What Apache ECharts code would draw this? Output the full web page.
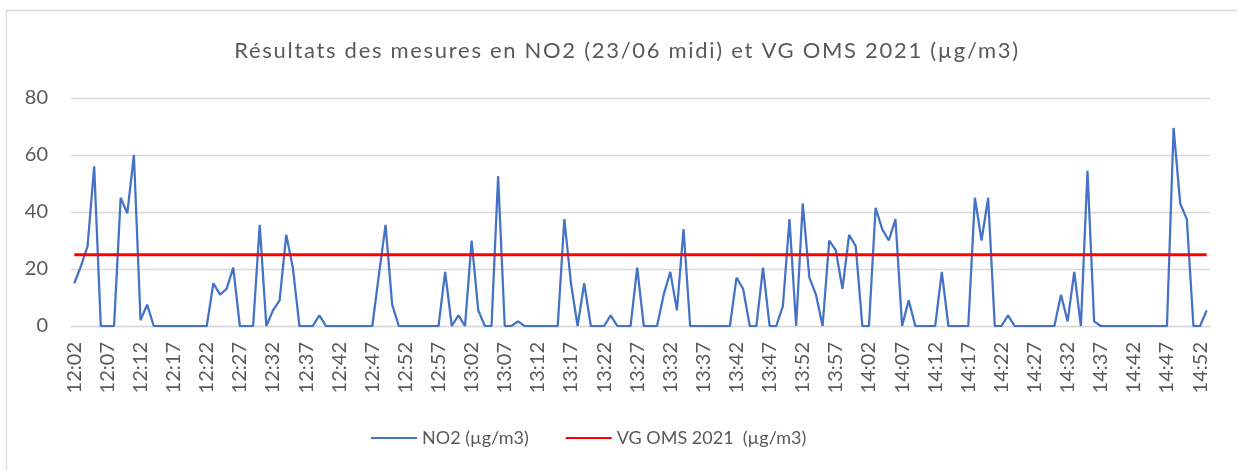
<!DOCTYPE html>
<html>
<head>
<meta charset="utf-8">
<script src="https://cdn.jsdelivr.net/npm/echarts@6/dist/echarts.min.js"></script>
<style>
  html, body { margin: 0; padding: 0; background: #ffffff; }
  #chart { width: 1237px; height: 470px; }
</style>
</head>
<body>
<div id="chart"></div>
<script>
const times = [
  "12:02","12:03","12:04","12:05","12:06","12:07","12:08","12:09","12:10","12:11",
  "12:12","12:13","12:14","12:15","12:16","12:17","12:18","12:19","12:20","12:21",
  "12:22","12:23","12:24","12:25","12:26","12:27","12:28","12:29","12:30","12:31",
  "12:32","12:33","12:34","12:35","12:36","12:37","12:38","12:39","12:40","12:41",
  "12:42","12:43","12:44","12:45","12:46","12:47","12:48","12:49","12:50","12:51",
  "12:52","12:53","12:54","12:55","12:56","12:57","12:58","12:59","13:00","13:01",
  "13:02","13:03","13:04","13:05","13:06","13:07","13:08","13:09","13:10","13:11",
  "13:12","13:13","13:14","13:15","13:16","13:17","13:18","13:19","13:20","13:21",
  "13:22","13:23","13:24","13:25","13:26","13:27","13:28","13:29","13:30","13:31",
  "13:32","13:33","13:34","13:35","13:36","13:37","13:38","13:39","13:40","13:41",
  "13:42","13:43","13:44","13:45","13:46","13:47","13:48","13:49","13:50","13:51",
  "13:52","13:53","13:54","13:55","13:56","13:57","13:58","13:59","14:00","14:01",
  "14:02","14:03","14:04","14:05","14:06","14:07","14:08","14:09","14:10","14:11",
  "14:12","14:13","14:14","14:15","14:16","14:17","14:18","14:19","14:20","14:21",
  "14:22","14:23","14:24","14:25","14:26","14:27","14:28","14:29","14:30","14:31",
  "14:32","14:33","14:34","14:35","14:36","14:37","14:38","14:39","14:40","14:41",
  "14:42","14:43","14:44","14:45","14:46","14:47","14:48","14:49","14:50","14:51",
  "14:52","14:53"
];

const no2 = [
  15, 21, 28, 56, 0, 0, 0, 45, 39.5, 60,
  2, 7.5, 0, 0, 0, 0, 0, 0, 0, 0,
  0, 15, 11, 13, 20.5, 0, 0, 0, 35.5, 0,
  5.5, 9, 32, 20.5, 0, 0, 0, 3.7, 0, 0,
  0, 0, 0, 0, 0, 0, 18, 35.5, 7.5, 0,
  0, 0, 0, 0, 0, 0, 19, 0, 3.7, 0,
  30, 5.5, 0, 0, 52.5, 0, 0, 1.6, 0, 0,
  0, 0, 0, 0, 37.5, 15, 0, 15, 0, 0,
  0, 3.7, 0, 0, 0, 20.5, 0, 0, 0, 11,
  19, 5.5, 34, 0, 0, 0, 0, 0, 0, 0,
  17, 13, 0, 0, 20.5, 0, 0, 7, 37.5, 0,
  43, 17, 11, 0, 30, 26.5, 13, 32, 28, 0,
  0, 41.5, 34, 30, 37.5, 0, 9, 0, 0, 0,
  0, 19, 0, 0, 0, 0, 45, 30, 45, 0,
  0, 3.7, 0, 0, 0, 0, 0, 0, 0, 11,
  1.6, 19, 0, 54.5, 1.6, 0, 0, 0, 0, 0,
  0, 0, 0, 0, 0, 0, 69.5, 43, 37.5, 0,
  0, 5.5
];

const vgOmsValue = 25;
const vgOms = [[times[0], vgOmsValue], [times[times.length - 1], vgOmsValue]];

const seriesNames = ["NO2 (µg/m3)", "VG OMS 2021  (µg/m3)"];
const titleText = "Résultats des mesures en NO2 (23/06 midi) et VG OMS 2021 (µg/m3)";
const yTicks = { min: 0, max: 80, interval: 20 };

const FONT = "Lato";
const GREY = "#595959";

// The reference title is set with expanded character spacing.
// Text drawn in the "TitleSpaced" family (falls back to Lato) gets extra letter spacing.
(function () {
  const proto = CanvasRenderingContext2D.prototype;
  const origFill = proto.fillText;
  proto.fillText = function (t, x, y, w) {
    if (typeof this.font === 'string' && this.font.indexOf('TitleSpaced') >= 0 && 'letterSpacing' in this) {
      const prev = this.letterSpacing;
      this.letterSpacing = '1.7px';
      const r = (w === undefined) ? origFill.call(this, t, x, y) : origFill.call(this, t, x, y, w);
      this.letterSpacing = prev;
      return r;
    }
    return origFill.apply(this, arguments);
  };
})();

const chart = echarts.init(document.getElementById('chart'), null, { renderer: 'canvas' });
chart.setOption({
  animation: false,
  backgroundColor: '#ffffff',
  graphic: [{
    type: 'rect',
    shape: { x: 6.5, y: 10.5, width: 1300, height: 500 },
    style: { fill: 'none', stroke: '#d9d9d9', lineWidth: 1.3 },
    silent: true,
    z: -10
  }],
  title: {
    text: titleText,
    left: 622,
    textAlign: 'center',
    top: 35,
    textStyle: { fontFamily: "TitleSpaced, Lato", fontSize: 22, fontWeight: 'normal', color: GREY }
  },
  legend: {
    data: seriesNames,
    left: 370,
    top: 429,
    padding: 0,
    itemWidth: 46,
    itemHeight: 14,
    itemGap: 36,
    itemStyle: { opacity: 0 },
    textStyle: { fontFamily: FONT, fontSize: 18, color: GREY }
  },
  grid: { left: 71, right: 27, top: 98, bottom: 144, containLabel: false },
  xAxis: {
    type: 'category',
    data: times,
    boundaryGap: true,
    axisLine: { show: true, lineStyle: { color: '#d9d9d9', width: 1.3 } },
    axisTick: { show: false },
    axisLabel: {
      interval: 4,
      rotate: 90,
      margin: 16,
      fontFamily: FONT,
      fontSize: 20,
      color: GREY
    },
    splitLine: { show: false }
  },
  yAxis: {
    type: 'value',
    min: yTicks.min,
    max: yTicks.max,
    interval: yTicks.interval,
    axisLine: { show: false },
    axisTick: { show: false },
    axisLabel: { margin: 23, fontFamily: FONT, fontSize: 20, color: GREY },
    splitLine: { show: true, lineStyle: { color: '#d9d9d9', width: 1.3 } }
  },
  series: [
    {
      name: seriesNames[0],
      type: 'line',
      data: no2,
      symbol: 'none',
      showSymbol: false,
      lineStyle: { color: '#4472C4', width: 2.25 },
      itemStyle: { color: '#4472C4' }
    },
    {
      name: seriesNames[1],
      type: 'line',
      data: vgOms,
      symbol: 'none',
      showSymbol: false,
      lineStyle: { color: '#FF0000', width: 3 },
      itemStyle: { color: '#FF0000' }
    }
  ]
});
</script>
</body>
</html>
